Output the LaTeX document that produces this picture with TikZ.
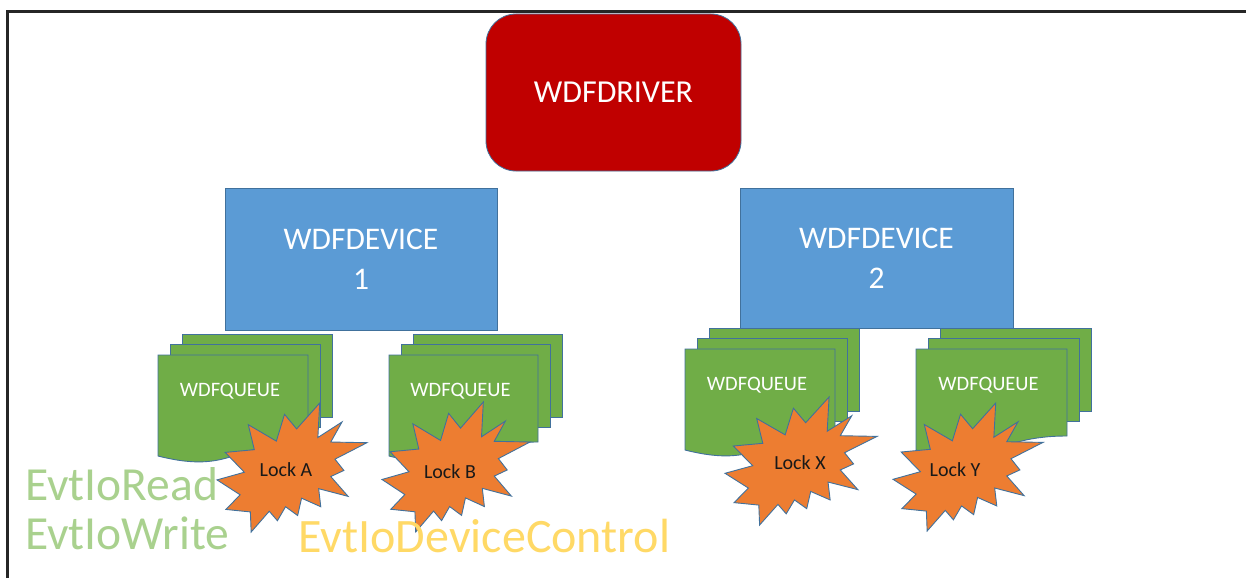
\documentclass[tikz,border=0pt]{standalone}
\usepackage{fontspec}
\setmainfont{Carlito}
\definecolor{drvred}{HTML}{C00000}
\definecolor{devblue}{HTML}{5B9BD5}
\definecolor{qgreen}{HTML}{70AD47}
\definecolor{edge}{HTML}{41719C}
\definecolor{lockor}{HTML}{ED7D31}
\definecolor{rwgreen}{HTML}{A9D18E}
\definecolor{ctlyel}{HTML}{FFD966}
\definecolor{frame}{HTML}{262626}
\tikzset{
  drvbox/.style={draw=edge, line width=0.8pt, fill=drvred, rounded corners=30pt, text=white, font=\fontsize{32}{36}\selectfont, inner sep=0pt},
  devbox/.style={draw=edge, line width=0.8pt, fill=devblue, text=white, align=center, font=\fontsize{31.5}{40}\selectfont, inner sep=0pt},
  docstyle/.style={draw=edge, line width=0.9pt, fill=qgreen},
  qtext/.style={text=white, font=\fontsize{20.5}{24}\selectfont, inner sep=0pt},
  sealstyle/.style={draw=edge, line width=0.9pt, fill=lockor, line join=miter},
  locktext/.style={text=black!90, font=\fontsize{20}{24}\selectfont, inner sep=0pt},
  evtrw/.style={text=rwgreen, font=\fontsize{47.5}{49}\selectfont, inner sep=0pt, anchor=base west},
  evtctl/.style={text=ctlyel, font=\fontsize{48}{49}\selectfont, inner sep=0pt, anchor=base west},
}
\newcommand\qstack[4]{%
  \draw[docstyle] (#1+24,#2-21) rectangle ++(#3,83);
  \draw[docstyle] (#1+12,#2-11) rectangle ++(#3,83);
  \draw[docstyle] (#1,#2) -- (#1+#3,#2) -- (#1+#3,#2+87)
     .. controls (#1+0.5*#3,#2+87) and (#1+0.5*#3,#2+120) .. (#1,#2+101) -- cycle;
  \node[qtext] (#4) at (#1+0.5*#3-3,#2+36) {WDFQUEUE};
}
\newcommand\sealat[4]{%
  \begin{scope}[shift={(#1,#2)}, xscale=#3/216, yscale=#4/216]
    \draw[sealstyle] (114.64,43.40) -- (97.22,18.87) -- (85.48,63.83) -- (45.03,36.26)
      -- (53.73,78.16) -- (11.74,82.70) -- (39.34,115.92) -- (0,128.75)
      -- (33.29,153.72) -- (12.83,178.24) -- (48.04,182.39) -- (49.18,216)
      -- (75.25,181.25) -- (86.98,197.12) -- (98.71,173.71) -- (116.14,188.44)
      -- (121.78,159.37) -- (149.43,173.71) -- (146.40,143.48) -- (188.78,156.32)
      -- (163.82,123.11) -- (182.70,112.92) -- (169.86,94.04) -- (216,66.46)
      -- (163.82,65.33) -- (180.05,31.72) -- (145.24,57.78) -- (147.89,0) -- cycle;
  \end{scope}
}
\begin{document}
\begin{tikzpicture}[x=1pt,y=-1pt]
\useasboundingbox (0,0) rectangle (1246,578);
\fill[white] (0,0) rectangle (1246,578);
% frame
\coordinate (fbl) at (7.5,578);
\coordinate (ftl) at (7.5,11.5);
\coordinate (ftr) at (1246,11.5);
\draw[frame, line width=3pt] (fbl) -- (ftl) -- (ftr);
% driver
\node[drvbox, minimum width=255pt, minimum height=157pt] (drv) at (613.5,92.5) {WDFDRIVER};
% devices
\node[devbox, minimum width=272pt, minimum height=142pt] (dev1) at (361,259) {WDFDEVICE\\1};
\node[devbox, minimum width=273pt, minimum height=140pt] (dev2) at (876.5,258) {WDFDEVICE\\2};
% queues
\qstack{158}{355}{150}{q1}
\qstack{389}{355}{149}{q2}
\qstack{685}{349}{150}{q3}
\qstack{916}{349}{151}{q4}
% locks
\sealat{217}{403}{150}{129}
\node[locktext] (lockA) at (286,470) {Lock A};
\sealat{382}{402}{148}{130}
\node[locktext] (lockB) at (450,472) {Lock B};
\sealat{725}{397}{152}{128}
\node[locktext] (lockX) at (800,463) {Lock X};
\sealat{893}{403}{150}{128}
\node[locktext] (lockY) at (955,470) {Lock Y};
% callbacks
\node[evtrw] (rd) at (25,500) {EvtIoRead};
\node[evtrw] (wr) at (25,549) {EvtIoWrite};
\node[evtctl] (ctl) at (298,552) {EvtIoDeviceControl};
\end{tikzpicture}
\end{document}
